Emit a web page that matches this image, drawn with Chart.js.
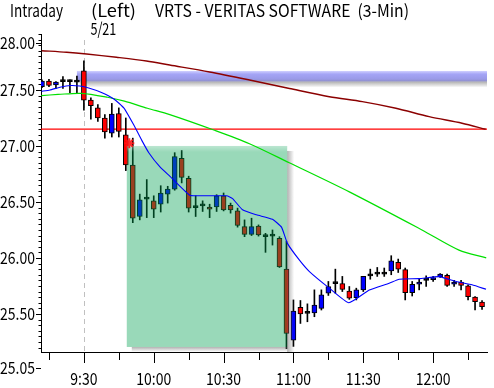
<!DOCTYPE html>
<html><head><meta charset="utf-8">
<script src="https://cdn.jsdelivr.net/npm/chart.js@4.4.1/dist/chart.umd.min.js"></script>
<style>html,body{margin:0;padding:0;background:#fff;overflow:hidden}canvas{display:block}</style>
</head><body>
<canvas id="c" width="494" height="388"></canvas>
<script>
// ---------------- data ----------------
const barIndex = [-6,-5,-4,-3,-2,-1,0,1,2,3,4,5,6,7,8,9,10,11,12,13,14,15,16,17,18,19,20,21,22,23,24,25,26,27,28,29,30,31,32,33,34,35,36,37,38,39,40,41,42,43,44,45,46,47,48,49,50,51,52,53,54,55,56,57];
const openPrices  = [27.53,27.58,27.545,27.575,27.575,27.57,27.67,27.41,27.34,27.25,27.115,27.29,27.10,26.83,26.37,26.525,26.51,26.48,26.57,26.615,26.89,26.71,26.45,26.465,26.455,26.455,26.555,26.47,26.42,26.28,26.21,26.285,26.19,26.195,26.175,25.90,25.265,25.56,25.505,25.51,25.55,25.685,25.77,25.77,25.705,25.645,25.715,25.84,25.855,25.855,25.885,25.96,25.895,25.69,25.765,25.80,25.805,25.83,25.845,25.765,25.785,25.75,25.65,25.605];
const highPrices  = [27.59,27.595,27.575,27.62,27.59,27.625,27.76,27.43,27.37,27.28,27.38,27.34,27.25,27.07,26.57,26.70,26.555,26.645,26.64,26.94,26.96,26.73,26.555,26.51,26.48,26.565,26.58,26.49,26.445,26.34,26.355,26.295,26.22,26.25,26.19,26.15,25.625,25.62,25.59,25.715,25.715,25.79,25.90,25.835,25.745,25.73,25.835,25.90,25.915,25.91,26.02,25.99,25.91,25.79,25.81,25.84,25.835,25.86,25.855,25.80,25.80,25.76,25.655,25.62];
const lowPrices   = [27.52,27.53,27.515,27.515,27.475,27.475,27.32,27.24,27.22,27.07,27.08,27.08,26.78,26.315,26.34,26.36,26.36,26.41,26.49,26.605,26.67,26.41,26.37,26.415,26.36,26.415,26.42,26.40,26.275,26.19,26.20,26.195,26.05,26.115,25.915,25.19,25.21,25.415,25.43,25.475,25.535,25.665,25.685,25.70,25.63,25.625,25.70,25.81,25.835,25.835,25.85,25.87,25.625,25.66,25.715,25.745,25.79,25.825,25.745,25.745,25.715,25.625,25.535,25.54];
const closePrices = [27.58,27.54,27.57,27.575,27.575,27.57,27.41,27.36,27.25,27.125,27.285,27.13,26.83,26.355,26.52,26.525,26.435,26.58,26.615,26.905,26.72,26.445,26.45,26.465,26.435,26.555,26.43,26.43,26.29,26.21,26.28,26.205,26.19,26.195,25.92,25.325,25.525,25.50,25.505,25.58,25.67,25.745,25.77,25.72,25.64,25.715,25.835,25.84,25.855,25.855,25.975,25.90,25.69,25.765,25.785,25.80,25.825,25.855,25.755,25.785,25.755,25.655,25.61,25.565];

// moving averages (bar index, price)
const shortMAIndex = [-6.07,-4.86,-3.43,-1.86,-0.57,0.57,2.43,4.29,5.71,7.21,8.29,9.29,10.86,12.29,15.14,16.57,18.43,20.43,21.29,22.71,24.71,27,28.29,29.14,30.86,32.29,35.14,37.93,40.86,43.71,45.14,48,50.86,53.29,55.57,57.57];
const shortMAValue = [27.488,27.50,27.525,27.54,27.535,27.52,27.48,27.42,27.34,27.18,27.05,26.94,26.815,26.73,26.56,26.555,26.555,26.555,26.53,26.43,26.385,26.345,26.275,26.13,25.98,25.878,25.73,25.60,25.714,25.774,25.81,25.815,25.833,25.79,25.76,25.72];
const midMAIndex = [-6.1,-3.7,-0.4,3.4,5.8,9.1,12.3,18.7,23.7,29.4,38,48.4,53.7,57.6];
const midMAValue = [27.45,27.46,27.47,27.435,27.40,27.337,27.28,27.14,27.02,26.85,26.59,26.25,26.07,26.0];
const longMAIndex = [-6.04,-2.47,0.39,4.67,8.96,12.29,18,23.71,29.43,35.14,39.86,44.67,49.43,54.14,57.53];
const longMAValue = [27.851,27.837,27.821,27.792,27.759,27.723,27.661,27.589,27.513,27.44,27.396,27.337,27.262,27.203,27.149];

const resistanceLevel = [27.15];
const bandPrices = [27.575, 27.67];
const bandStartIndex = [-1];
const boxIndexRange = [6.14, 29.1];
const boxPriceRange = [25.205, 27.0];
const markerIndex = [6.5];
const markerPrice = [27.025];

const sessionBreakIndex = [0];
const sessionLabel = ['5/21'];
const timeTickIndex = [-5,0,5,10,15,20,25,30,35,40,45,50,55];
const timeLabelIndex = [0,10,20,30,40,50];
const timeLabels = ['9:30','10:00','10:30','11:00','11:30','12:00'];
const priceTicks = [25.5,26.0,26.5,27.0,27.5,28.0];
const priceTickLabels = ['25.50','26.00','26.50','27.00','27.50','28.00'];
const priceMinorStep = [0.05];
const priceLowLabel = ['25.05'];
const titleTexts = ['Intraday','(Left)','VRTS - VERITAS SOFTWARE  (3-Min)'];

const yMin = 25.16, yMax = 28.0, xMin = -6.14, xMax = 57.71;

// ---------------- styling ----------------
const UP = '#0000ff', DOWN = '#ff0000', DOJI = '#000000';
const FONT = '"Noto Sans CJK JP","DejaVu Sans",sans-serif';

function scaledText(ctx, text, x, y, align, targetW, size) {
  ctx.save();
  ctx.font = size + 'px ' + FONT;
  const w = ctx.measureText(text).width;
  const sx = targetW / w;
  ctx.translate(x, y);
  ctx.scale(sx, 1);
  ctx.textAlign = align;
  ctx.textBaseline = 'alphabetic';
  ctx.fillStyle = '#000';
  ctx.fillText(text, 0, 0);
  ctx.restore();
}
function textScale(ctx, sample, targetW, size) {
  ctx.save(); ctx.font = size + 'px ' + FONT;
  const w = ctx.measureText(sample).width; ctx.restore();
  return targetW / w;
}
function drawT(ctx, text, x, y, align, sx, size) {
  ctx.save();
  ctx.font = size + 'px ' + FONT;
  ctx.translate(x, y); ctx.scale(sx, 1);
  ctx.textAlign = align; ctx.textBaseline = 'alphabetic'; ctx.fillStyle = '#000';
  ctx.fillText(text, 0, 0);
  ctx.restore();
}

const decor = {
  id: 'decor',
  beforeDatasetsDraw(chart) {
    const {ctx, chartArea: a, scales: {x, y}} = chart;
    ctx.save();
    ctx.beginPath(); ctx.rect(a.left, a.top, a.right - a.left, a.bottom - a.top); ctx.clip();
    // blue band
    const bx = x.getPixelForValue(bandStartIndex[0]);
    const by1 = y.getPixelForValue(bandPrices[1]);
    const by2 = y.getPixelForValue(bandPrices[0]);
    const g = ctx.createLinearGradient(0, by1, 0, by2);
    g.addColorStop(0, '#d0d0ff'); g.addColorStop(0.3, '#a4a4f6'); g.addColorStop(0.75, '#9a9ae8'); g.addColorStop(1, '#8e8ec8');
    ctx.fillStyle = g; ctx.fillRect(bx, by1, a.right - bx, by2 - by1);
    const sg = ctx.createLinearGradient(0, by2, 0, by2 + 6);
    sg.addColorStop(0, 'rgba(110,110,110,0.55)'); sg.addColorStop(1, 'rgba(110,110,110,0)');
    ctx.fillStyle = sg; ctx.fillRect(bx + 3, by2, a.right - bx, 6);
    // session break dashed line
    const sx = Math.round(x.getPixelForValue(sessionBreakIndex[0])) + 0.5;
    ctx.strokeStyle = '#c0c0c0'; ctx.lineWidth = 1; ctx.setLineDash([5, 4]);
    ctx.beginPath(); ctx.moveTo(sx, a.top + 6); ctx.lineTo(sx, a.bottom); ctx.stroke();
    ctx.setLineDash([]);
    // resistance line
    const ry = y.getPixelForValue(resistanceLevel[0]);
    ctx.strokeStyle = '#ff0000'; ctx.lineWidth = 1.3;
    ctx.beginPath(); ctx.moveTo(a.left, ry); ctx.lineTo(a.right, ry); ctx.stroke();
    ctx.restore();
  },
  afterDatasetDraw(chart, args) {
    if (args.index !== 1) return;
    const {ctx, chartArea: a, scales: {x, y}} = chart;
    const x1 = x.getPixelForValue(boxIndexRange[0]), x2 = x.getPixelForValue(boxIndexRange[1]);
    const y1 = y.getPixelForValue(boxPriceRange[1]), y2 = y.getPixelForValue(boxPriceRange[0]);
    ctx.save();
    // shadow right & bottom
    const gr = ctx.createLinearGradient(x2, 0, x2 + 7, 0);
    gr.addColorStop(0, 'rgba(100,100,100,0.5)'); gr.addColorStop(1, 'rgba(100,100,100,0)');
    ctx.fillStyle = gr; ctx.fillRect(x2, y1 + 5, 7, y2 - y1);
    const gb = ctx.createLinearGradient(0, y2, 0, y2 + 5);
    gb.addColorStop(0, 'rgba(100,100,100,0.5)'); gb.addColorStop(1, 'rgba(100,100,100,0)');
    ctx.fillStyle = gb; ctx.fillRect(x1 + 5, y2, x2 - x1 - 5, 5);
    // translucent green box
    ctx.fillStyle = 'rgba(0,160,80,0.4)';
    ctx.fillRect(x1, y1, x2 - x1, y2 - y1);
    const gt = ctx.createLinearGradient(0, y1, 0, y1 + 6);
    gt.addColorStop(0, 'rgba(255,255,255,0.35)'); gt.addColorStop(1, 'rgba(255,255,255,0)');
    ctx.fillStyle = gt; ctx.fillRect(x1, y1, x2 - x1, 6);
    ctx.restore();
  },
  afterDraw(chart) {
    const {ctx, chartArea: a, scales: {x, y}} = chart;
    ctx.save();
    ctx.strokeStyle = '#000'; ctx.lineWidth = 1;
    // y ticks
    ctx.beginPath();
    for (let v = priceTicks[0]; v > yMin; v -= priceMinorStep[0]) {
      const py = Math.round(y.getPixelForValue(v)) + 0.5;
      ctx.moveTo(a.left - 2.5, py); ctx.lineTo(a.left, py);
    }
    for (let v = priceTicks[0]; v <= yMax + 1e-9; v += priceMinorStep[0]) {
      const py = Math.round(y.getPixelForValue(v)) + 0.5;
      ctx.moveTo(a.left - 2.5, py); ctx.lineTo(a.left, py);
    }
    ctx.stroke();
    const sxL = textScale(ctx, '27.50', 35, 17);
    priceTicks.forEach((v, k) => {
      let py = y.getPixelForValue(v);
      if (py < a.top + 8) py = a.top + 8.5;
      ctx.beginPath(); ctx.moveTo(a.left - 5, Math.round(py) + 0.5); ctx.lineTo(a.left, Math.round(py) + 0.5); ctx.stroke();
      drawT(ctx, priceTickLabels[k], a.left - 6, py + 6, 'right', sxL, 17);
    });
    // low label below the axis
    const lowY = a.bottom + 16;
    ctx.beginPath(); ctx.moveTo(a.left - 5, lowY + 0.5); ctx.lineTo(a.left, lowY + 0.5); ctx.stroke();
    drawT(ctx, priceLowLabel[0], a.left - 6, lowY + 6, 'right', sxL, 17);
    // x ticks
    ctx.beginPath();
    timeTickIndex.forEach(v => {
      const px = Math.round(x.getPixelForValue(v)) + 0.5;
      const major = timeLabelIndex.includes(v);
      ctx.moveTo(px, a.bottom); ctx.lineTo(px, a.bottom + (major ? 11 : 8));
    });
    ctx.stroke();
    timeLabelIndex.forEach((v, k) => {
      drawT(ctx, timeLabels[k], x.getPixelForValue(v), a.bottom + 32.5, 'center', sxL, 17);
    });
    // titles
    scaledText(ctx, titleTexts[0], 10, 16.5, 'left', 53, 17);
    scaledText(ctx, titleTexts[1], 91, 16.5, 'left', 45, 17);
    scaledText(ctx, titleTexts[2], 155, 16.5, 'left', 254, 17);
    scaledText(ctx, sessionLabel[0], x.getPixelForValue(sessionBreakIndex[0]) + 6.5, 34.5, 'left', 26, 17);
    ctx.restore();
  }
};

const pts = (xs, ys) => xs.map((v, k) => ({x: v, y: ys[k]}));
const bodyColors = barIndex.map((_, k) => closePrices[k] > openPrices[k] ? UP : (closePrices[k] < openPrices[k] ? DOWN : DOJI));

new Chart(document.getElementById('c'), {
  type: 'bar',
  data: {
    datasets: [
      { label: 'wick', data: barIndex.map((v, k) => ({x: v, y: [lowPrices[k], highPrices[k]]})),
        backgroundColor: '#000', borderWidth: 0, barThickness: 1, grouped: false, order: 3 },
      { label: 'body', data: barIndex.map((v, k) => ({x: v, y: [openPrices[k], closePrices[k]]})),
        backgroundColor: bodyColors, borderColor: '#000', borderWidth: 1, borderSkipped: false,
        barThickness: 5, minBarLength: 2, grouped: false, order: 2 },
      { type: 'line', label: 'long', data: pts(longMAIndex, longMAValue), borderColor: '#8b0000',
        borderWidth: 1.4, pointRadius: 0, tension: 0.3, fill: false, order: 1 },
      { type: 'line', label: 'mid', data: pts(midMAIndex, midMAValue), borderColor: '#00e000',
        borderWidth: 1.2, pointRadius: 0, tension: 0.3, fill: false, order: 1 },
      { type: 'line', label: 'short', data: pts(shortMAIndex, shortMAValue), borderColor: '#0000ff',
        borderWidth: 1.1, pointRadius: 0, tension: 0.15, fill: false, order: 0 },
      { type: 'line', label: 'marker', data: pts(markerIndex, markerPrice), showLine: false,
        pointStyle: 'star', pointRadius: 5, borderColor: 'rgba(255,20,20,0.9)', pointBorderWidth: 2,
        backgroundColor: 'rgba(255,120,120,0.5)', order: -1 }
    ]
  },
  options: {
    responsive: false, animation: false, devicePixelRatio: 1,
    layout: { padding: { top: 34, right: 6, left: 0, bottom: 0 } },
    plugins: { legend: { display: false }, tooltip: { enabled: false }, title: { display: false } },
    scales: {
      x: { type: 'linear', min: xMin, max: xMax, offset: false,
           grid: { display: false }, border: { display: true, color: '#000', width: 1 },
           ticks: { display: false }, afterFit: s => { s.height = 36; } },
      y: { type: 'linear', min: yMin, max: yMax, position: 'left',
           grid: { display: false }, border: { display: true, color: '#000', width: 1 },
           ticks: { display: false }, afterFit: s => { s.width = 41; } }
    }
  },
  plugins: [decor]
});
</script>
</body></html>
